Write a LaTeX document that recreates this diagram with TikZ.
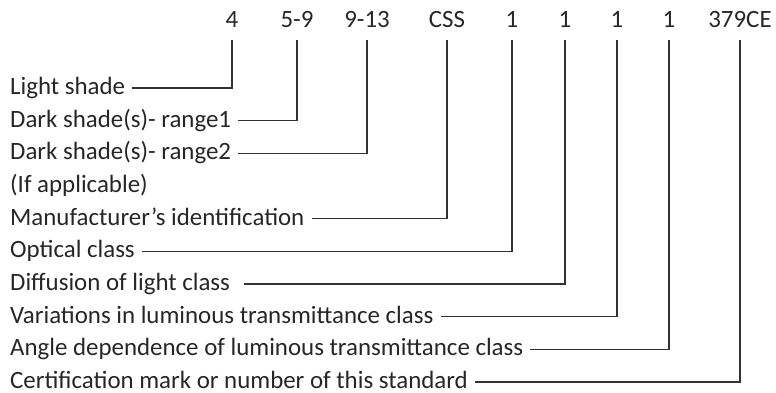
\documentclass[tikz,border=0pt]{standalone}
\usepackage{fontspec}
\setmainfont{Carlito}
\begin{document}
\begin{tikzpicture}[x=1pt,y=-1pt,
  every node/.style={inner sep=0pt, text=black!85, font=\fontsize{24.9}{28}\selectfont},
  code/.style={anchor=base},
  desc/.style={anchor=base west},
  lead/.style={draw=black!80, line width=1.1pt}]
\useasboundingbox (0,0) rectangle (776,393);

% code elements along the top
\node[code] (c1) at (232,28) {4};
\node[code] (c2) at (297,28) {5-9};
\node[code] (c3) at (367,28) {9-13};
\node[code] (c4) at (447,28) {CSS};
\node[code] (c5) at (512,28) {1};
\node[code] (c6) at (565,28) {1};
\node[code] (c7) at (617,28) {1};
\node[code] (c8) at (669,28) {1};
\node[code] (c9) at (740,28) {379CE};

% descriptions down the left
\node[desc] (d1) at (10,94.5)  {Light shade};
\node[desc] (d2) at (10,127.2) {Dark shade(s)- range1};
\node[desc] (d3) at (10,159.8) {Dark shade(s)- range2};
\node[desc] (d3b) at (10,192.5) {(If applicable)};
\node[desc] (d4) at (10,225.2) {Manufacturer’s identification};
\node[desc] (d5) at (10,257.8) {Optical class};
\node[desc] (d6) at (10,290.5) {Diffusion of light class};
\node[desc] (d7) at (10,323.2) {Variations in luminous transmittance class};
\node[desc] (d8) at (10,355.8) {Angle dependence of luminous transmittance class};
\node[desc] (d9) at (10,388.5) {Certification mark or number of this standard};

% leader lines from each description to its code element
\foreach \d/\c/\g in {d1/c1/7, d2/c2/7, d3/c3/7, d4/c4/7, d5/c5/7, d6/c6/14, d7/c7/7, d8/c8/7, d9/c9/7}
  \draw[lead] ([shift={(\g,-6.5)}]\d.base east) -| ([yshift=-12pt]\c.base);
\end{tikzpicture}
\end{document}
